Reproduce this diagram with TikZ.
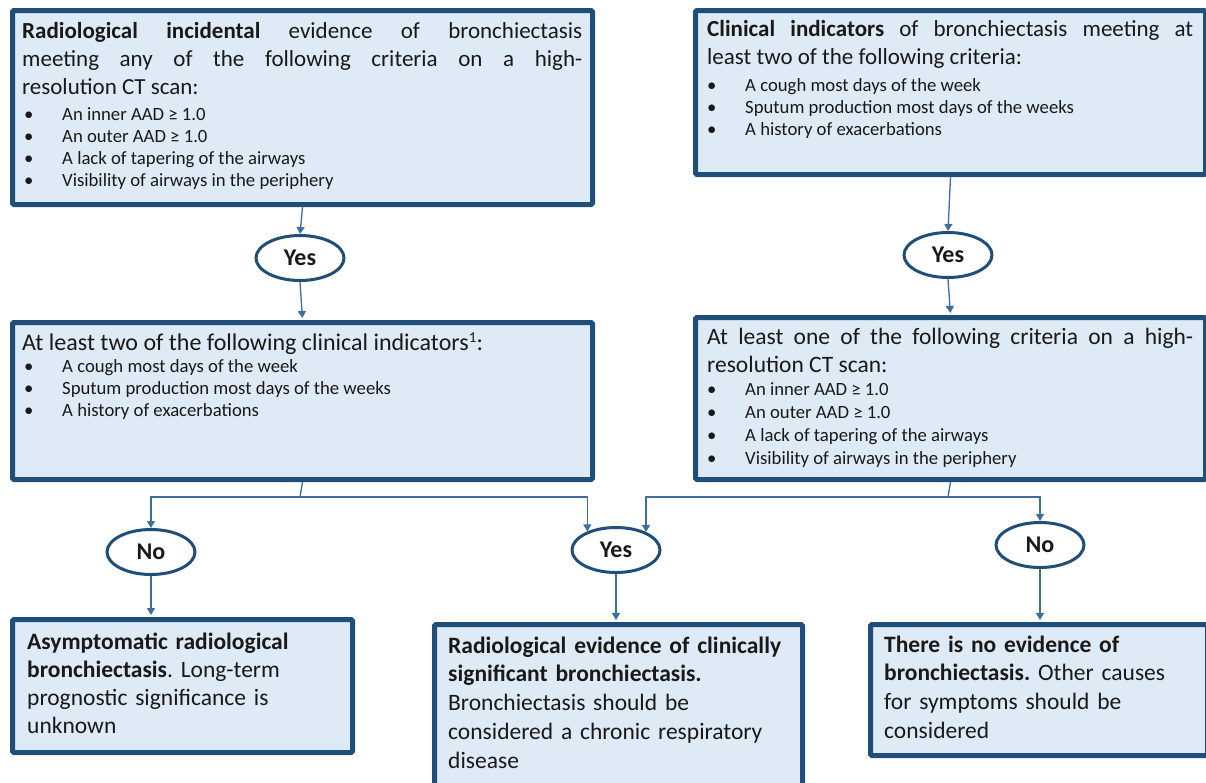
\documentclass[tikz,border=0pt]{standalone}
\usepackage{fontspec}
\setmainfont{Carlito}
\usetikzlibrary{shapes.geometric,arrows.meta}
\definecolor{boxfill}{RGB}{222,234,246}
\definecolor{boxline}{RGB}{31,78,121}
\definecolor{conncol}{RGB}{60,110,160}
\definecolor{txtcol}{RGB}{25,25,25}
\newcommand{\bitem}[3]{\par\noindent\hspace*{#1}\makebox[#2][l]{\textbullet}#3}
\frenchspacing
\begin{document}
\begin{tikzpicture}[x=1pt,y=-1pt,
 box/.style={draw=boxline, fill=boxfill, line width=5pt, rounded corners=1.5pt, inner sep=0pt, anchor=north west},
 dec/.style={ellipse, draw=boxline, fill=white, line width=3pt, minimum width=88pt, minimum height=45pt, inner sep=0pt, text=txtcol, font=\fontsize{24}{28}\selectfont\bfseries},
 txt/.style={anchor=base west, inner sep=0pt, text width=#1, align=justify, text=txtcol, font=\fontsize{23}{28}\selectfont},
 outtxt/.style={anchor=base west, inner sep=0pt, text width=#1, align=left, text=txtcol},
 conn/.style={draw=conncol, line width=1.3pt, -{Triangle[length=7pt,width=8pt]}},
 link/.style={draw=conncol, line width=1.3pt}]
\useasboundingbox (0,0) rectangle (1206,782);

% boxes
\node[box, minimum width=580pt, minimum height=194pt] (b1) at (10,8) {};
\node[box, minimum width=510pt, minimum height=164pt] (b2) at (693,8) {};
\node[box, minimum width=580pt, minimum height=157pt] (b3) at (10,320) {};
\node[box, minimum width=510pt, minimum height=162pt] (b4) at (693,315) {};
\node[box, minimum width=340pt, minimum height=133pt] (b5) at (10,617) {};
\node[box, minimum width=368pt, minimum height=175pt] (b6) at (432,622) {};
\node[box, minimum width=337pt, minimum height=131pt] (b7) at (868,622) {};

% decisions
\node[dec] (y1) at (300,258) {Yes};
\node[dec] (y2) at (948,255) {Yes};
\node[dec] (n1) at (151,552) {No};
\node[dec] (y3) at (616,550) {Yes};
\node[dec] (n2) at (1040,545) {No};

% texts
\node[txt=560pt] (t1) at (22,38) {{\bfseries Radiological incidental} evidence of bronchiectasis\linebreak meeting any of the following criteria on a high-\linebreak resolution CT scan:\par
\fontsize{18.7}{22}\selectfont\vspace{4pt}%
\bitem{2pt}{38pt}{An inner AAD ≥ 1.0}
\bitem{2pt}{38pt}{An outer AAD ≥ 1.0}
\bitem{2pt}{38pt}{A lack of tapering of the airways}
\bitem{2pt}{38pt}{Visibility of airways in the periphery}\par};

\node[txt=486pt] (t2) at (707,36) {{\bfseries Clinical indicators} of bronchiectasis meeting at\linebreak least two of the following criteria:\par
\fontsize{18.7}{22}\selectfont\vspace{5pt}%
\bitem{0pt}{38pt}{A cough most days of the week}
\bitem{0pt}{38pt}{Sputum production most days of the weeks}
\bitem{0pt}{38pt}{A history of exacerbations}\par};

\node[txt=560pt, font=\fontsize{24}{28}\selectfont] (t3) at (22,350) {At least two of the following clinical indicators\raisebox{8pt}{\fontsize{15}{15}\selectfont 1}:\par
\fontsize{18.7}{22}\selectfont%
\bitem{2pt}{38pt}{A cough most days of the week}
\bitem{2pt}{38pt}{Sputum production most days of the weeks}
\bitem{2pt}{38pt}{A history of exacerbations}\par};

\node[txt=486pt, font=\fontsize{23.5}{28}\selectfont] (t4) at (707,344) {At least one of the following criteria on a high-\linebreak resolution CT scan:\par
\fontsize{18.7}{23}\selectfont%
\bitem{0pt}{38pt}{An inner AAD ≥ 1.0}
\bitem{0pt}{38pt}{An outer AAD ≥ 1.0}
\bitem{0pt}{38pt}{A lack of tapering of the airways}
\bitem{0pt}{38pt}{Visibility of airways in the periphery}\par};

\node[outtxt=330pt, font=\fontsize{23.5}{28.3}\selectfont] (t5) at (27,649) {{\bfseries Asymptomatic radiological}\\ {\bfseries bronchiectasis}. Long-term\\ prognostic significance is\\ unknown\par};
\node[outtxt=350pt, font=\fontsize{23.5}{28.8}\selectfont] (t6) at (448,653) {{\bfseries Radiological evidence of clinically}\\ {\bfseries significant bronchiectasis.}\\ Bronchiectasis should be\\ considered a chronic respiratory\\ disease\par};
\node[outtxt=318pt, font=\fontsize{23.5}{28.7}\selectfont] (t7) at (884,652) {{\bfseries There is no evidence of}\\ {\bfseries bronchiectasis.} Other causes\\ for symptoms should be\\ considered\par};

% connectors
\draw[conn] (b1.south) -- (y1.north);
\draw[conn, shorten >=2pt] (y1.south) -- (b3.north);
\draw[conn] (b2.south) -- (y2.north);
\draw[conn, shorten >=2pt] (y2.south) -- (b4.north);

\coordinate (j1) at (300,497);
\coordinate (j2) at (948,497);
\draw[link] (b3.south) -- (j1);
\draw[conn] (j1) -| (n1.north);
\draw[conn] (j1) -| (y3.147);
\draw[link] (b4.south) -- (j2);
\draw[conn] (j2) -| (y3.31);
\draw[conn] (j2) -| (n2.north);

\draw[conn, shorten >=2pt] (n1.south) -- (n1.south |- b5.north);
\draw[conn, shorten >=2pt] (y3.south) -- (y3.south |- b6.north);
\draw[conn, shorten >=2pt] (n2.south) -- (n2.south |- b7.north);
\end{tikzpicture}
\end{document}
